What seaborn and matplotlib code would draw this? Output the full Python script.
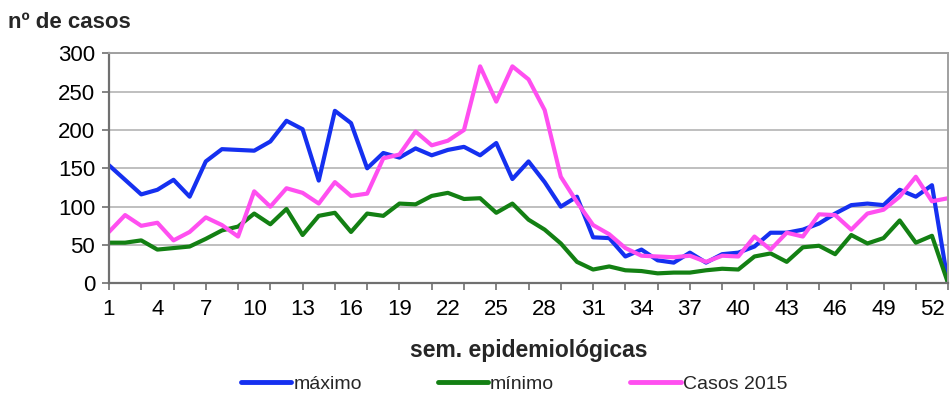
import matplotlib
matplotlib.use("Agg")
import matplotlib.pyplot as plt
import seaborn as sns
import pandas as pd

# Epidemiological weeks 1..53
weeks = list(range(1, 54))

maximo = [154, 135, 116, 122, 135, 113, 159, 175, 174, 173, 185, 212, 201, 134,
          225, 209, 150, 170, 164, 176, 167, 174, 178, 167, 183, 136, 159, 132,
          100, 113, 60, 59, 35, 44, 30, 27, 40, 27, 38, 40, 48, 66, 66, 70, 78,
          91, 102, 104, 102, 122, 113, 128, 0]
minimo = [53, 53, 56, 44, 46, 48, 58, 69, 74, 91, 77, 97, 63, 88, 92, 67, 91,
          88, 104, 103, 114, 118, 110, 111, 92, 104, 83, 70, 52, 28, 18, 22, 17,
          16, 13, 14, 14, 17, 19, 18, 35, 39, 28, 47, 49, 38, 63, 52, 59, 82, 53,
          62, 0]
casos_2015 = [67, 89, 75, 79, 56, 67, 86, 76, 61, 120, 100, 124, 118, 104, 132,
              114, 117, 163, 168, 198, 180, 186, 200, 283, 237, 283, 266, 226,
              139, 106, 76, 64, 46, 36, 35, 34, 36, 28, 36, 35, 61, 44, 66, 61,
              90, 89, 70, 91, 96, 113, 139, 107, 111]

series_names = ["máximo", "mínimo", "Casos 2015"]
series_colors = ["#1530f0", "#138013", "#ff4ff0"]
y_ticks = [0, 50, 100, 150, 200, 250, 300]
x_tick_labels = list(range(1, 53, 3))

df = pd.concat([
    pd.DataFrame({"semana": weeks, "casos": vals, "serie": name})
    for name, vals in zip(series_names, [maximo, minimo, casos_2015])
])

sns.set_style("white")
plt.rcParams["font.family"] = ["Liberation Sans", "DejaVu Sans"]

fig = plt.figure(figsize=(9.5, 4.0), dpi=100)
ax = fig.add_axes([0.1147, 0.2917, 0.8833, 0.575])

sns.lineplot(data=df, x="semana", y="casos", hue="serie", hue_order=series_names,
             palette=series_colors, linewidth=3.0, ax=ax, legend=True, sort=False)

ax.set_xlim(1, 53)
ax.set_ylim(0, 300)
ax.set_yticks(y_ticks)
ax.set_yticklabels([str(v) for v in y_ticks])
ax.yaxis.grid(True, color="#b4b4b4", linewidth=1.2)
ax.set_axisbelow(True)

# tick marks every two weeks, labels every three weeks
ax.set_xticks(list(range(1, 54, 2)))
ax.set_xticklabels([])
ax.set_xticks(x_tick_labels, minor=True)
ax.set_xticklabels([str(v) for v in x_tick_labels], minor=True)
ax.xaxis.remove_overlapping_locs = False
ax.tick_params(axis="x", which="major", length=5, width=1.2, color="#707070",
               direction="out", bottom=True)
ax.tick_params(axis="x", which="minor", length=0, pad=11, bottom=True,
               labelsize=16, labelcolor="black")
ax.tick_params(axis="y", length=5, width=1.2, color="#707070", direction="out",
               left=True, pad=5, labelsize=16, labelcolor="black")

for side in ["left", "bottom"]:
    ax.spines[side].set_color("#707070")
    ax.spines[side].set_linewidth(1.6)
for side in ["top", "right"]:
    ax.spines[side].set_color("#a0a0a0")
    ax.spines[side].set_linewidth(1.4)

ax.set_xlabel("")
ax.set_ylabel("")
fig.text(0.557, 1 - 351 / 400, "sem. epidemiológicas", fontsize=16.5,
         fontweight="bold", ha="center", va="center")
fig.text(0.008, 0.945, "nº de casos", fontsize=16, fontweight="bold",
         ha="left", va="center")

handles, labels = ax.get_legend_handles_labels()
ax.get_legend().remove()
for h in handles:
    h.set_linewidth(3.5)
fig.legend(handles, labels, loc="center", bbox_to_anchor=(0.541, 1 - 384 / 400),
           ncol=3, frameon=False, fontsize=14, handlelength=2.6,
           handletextpad=0.1, columnspacing=3.9)

fig.savefig("out.png", dpi=100)
